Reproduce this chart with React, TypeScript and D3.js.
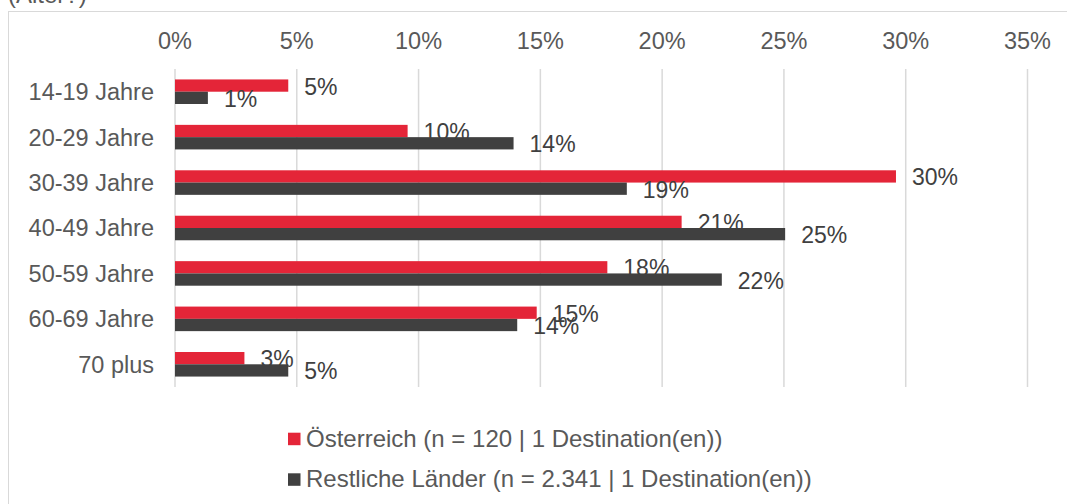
import React, { useEffect, useRef } from 'react';
import * as d3 from 'd3';

// Age groups (y categories)
const categories = ['14-19 Jahre', '20-29 Jahre', '30-39 Jahre', '40-49 Jahre', '50-59 Jahre', '60-69 Jahre', '70 plus'];
// Share in % per series
const austria = [4.65, 9.55, 29.6, 20.8, 17.75, 14.85, 2.85];
const otherCountries = [1.35, 13.9, 18.55, 25.05, 22.45, 14.05, 4.65];
const xTicks = [0, 5, 10, 15, 20, 25, 30, 35];
const seriesNames = ['Österreich (n = 120 | 1 Destination(en))', 'Restliche Länder (n = 2.341 | 1 Destination(en))'];
const seriesColors = ['#E42538', '#404040'];

const FONT = '"Liberation Sans", Arial, Helvetica, sans-serif';

const App: React.FC = () => {
    const ref = useRef<SVGSVGElement>(null);

    useEffect(() => {
        const width = 1067;
        const height = 504;
        const svg = d3.select(ref.current!);
        svg.selectAll('*').remove();

        const plotTop = 69;
        const plotBottom = 387;

        const x = d3.scaleLinear().domain([0, 35]).range([175, 1027.5]);
        const y = d3.scaleBand<string>().domain(categories).range([plotTop, plotBottom]);
        // two bars per group, gap width ~85%
        const groupH = y.bandwidth() / 1.85;
        const inner = d3.scaleBand<number>().domain([0, 1]).range([0, groupH]);
        const groupOffset = (y.bandwidth() - groupH) / 2;

        // Chart frame
        svg.append('rect')
            .attr('x', 8.5)
            .attr('y', 11.5)
            .attr('width', 1080)
            .attr('height', 520)
            .attr('fill', 'white')
            .attr('stroke', '#D9D9D9');

        // Title (cut off at the top)
        svg.append('text')
            .attr('x', 8)
            .attr('y', 3)
            .attr('font-size', 24)
            .attr('fill', '#595959')
            .text('(Alter?)');

        // Gridlines
        svg.append('g')
            .selectAll('line')
            .data(xTicks)
            .join('line')
            .attr('x1', (d) => x(d))
            .attr('x2', (d) => x(d))
            .attr('y1', plotTop)
            .attr('y2', plotBottom)
            .attr('stroke', '#D9D9D9')
            .attr('stroke-width', 1.5);

        // X axis labels on top
        svg.append('g')
            .selectAll('text')
            .data(xTicks)
            .join('text')
            .attr('x', (d) => x(d))
            .attr('y', 49)
            .attr('text-anchor', 'middle')
            .attr('font-size', 23.5)
            .attr('fill', '#595959')
            .text((d) => `${d}%`);

        // Category labels
        svg.append('g')
            .selectAll('text')
            .data(categories)
            .join('text')
            .attr('x', 154)
            .attr('y', (d) => y(d)! + y.bandwidth() / 2)
            .attr('dy', 8.4)
            .attr('text-anchor', 'end')
            .attr('font-size', 23.5)
            .attr('fill', '#595959')
            .text((d) => d);

        // Bars + labels, series by series so the dark bars cover the red labels
        [austria, otherCountries].forEach((values, si) => {
            const rows = values.map((v, i) => ({ v, cat: categories[i] }));
            svg.append('g')
                .selectAll('rect')
                .data(rows)
                .join('rect')
                .attr('x', x(0))
                .attr('y', (d) => y(d.cat)! + groupOffset + inner(si)!)
                .attr('width', (d) => x(d.v) - x(0))
                .attr('height', inner.bandwidth())
                .attr('fill', seriesColors[si]);

            svg.append('g')
                .selectAll('text')
                .data(rows)
                .join('text')
                .attr('x', (d) => x(d.v) + 16)
                .attr('y', (d) => y(d.cat)! + groupOffset + inner(si)! + inner.bandwidth() / 2)
                .attr('dy', 9)
                .attr('font-size', 23)
                .attr('fill', '#404040')
                .text((d) => `${Math.round(d.v)}%`);
        });

        // Legend
        const legend = svg.append('g')
            .selectAll('g')
            .data(seriesNames)
            .join('g')
            .attr('transform', (_, i) => `translate(288,${432.7 + i * 40.6})`);
        legend.append('rect')
            .attr('width', 12.5)
            .attr('height', 12.5)
            .attr('fill', (_, i) => seriesColors[i]);
        legend.append('text')
            .attr('x', 18)
            .attr('y', 14)
            .attr('font-size', 24)
            .attr('fill', '#595959')
            .text((d) => d);

        svg.attr('width', width).attr('height', height);
    }, []);

    return (
        <svg
            ref={ref}
            width={1067}
            height={504}
            style={{ position: 'absolute', left: 0, top: 0, fontFamily: FONT, background: 'white' }}
        />
    );
};

export default App;
